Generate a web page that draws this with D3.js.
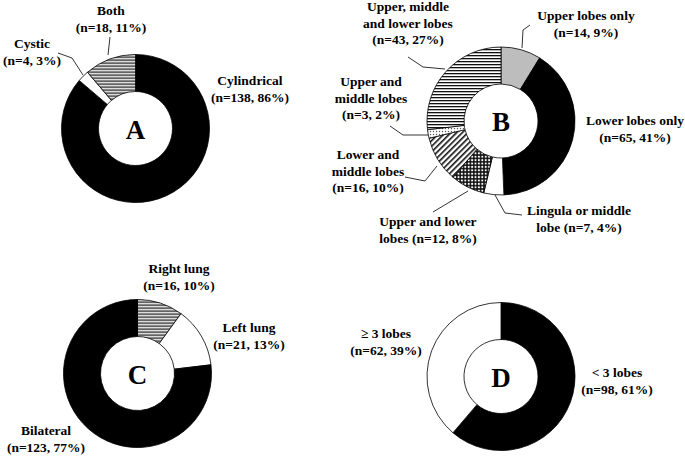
<!DOCTYPE html>
<html><head><meta charset="utf-8">
<script src="https://cdn.jsdelivr.net/npm/d3@7"></script>
<style>body{margin:0;background:#fff}svg{display:block}</style>
</head><body>
<svg id="c" width="685" height="457"></svg>
<script>
// ---- data ----
const catsA = ["Cylindrical", "Cystic", "Both"];
const valsA = [138, 4, 18];
const catsB = ["Upper lobes only", "Lower lobes only", "Lingula or middle lobe", "Upper and lower lobes", "Lower and middle lobes", "Upper and middle lobes", "Upper, middle and lower lobes"];
const valsB = [14, 65, 7, 12, 16, 3, 43];
const catsC = ["Right lung", "Left lung", "Bilateral"];
const valsC = [16, 21, 123];
const catsD = ["< 3 lobes", "\u2265 3 lobes"];
const valsD = [98, 62];

// ---- layout / styles ----
const fillsA = ["#000", "#fff", "url(#hstripe)"];
const fillsB = ["#bdbdbd", "#000", "#fff", "url(#checker)", "url(#diag)", "url(#dots)", "url(#hstripe)"];
const fillsC = ["url(#hstripe)", "#fff", "#000"];
const fillsD = ["#000", "#fff"];

// label lines: [lines(with {n},{p}), x, firstBaseline]
const labA = [
  [["Cylindrical", "(n={n}, {p}%)"], 250, 85],
  [["Cystic", "(n={n}, {p}%)"], 32, 48],
  [["Both", "(n={n}, {p}%)"], 111, 15]
];
const labB = [
  [["Upper lobes only", "(n={n}, {p}%)"], 586, 20],
  [["Lower lobes only", "(n={n}, {p}%)"], 635, 125],
  [["Lingula or middle", "lobe (n={n}, {p}%)"], 579, 215],
  [["Upper and lower", "lobes (n={n}, {p}%)"], 428, 226],
  [["Lower and", "middle lobes", "(n={n}, {p}%)"], 368, 159],
  [["Upper and", "middle lobes", "(n={n}, {p}%)"], 371, 86],
  [["Upper, middle", "and lower lobes", "(n={n}, {p}%)"], 408, 11]
];
const labC = [
  [["Right lung", "(n={n}, {p}%)"], 179, 273],
  [["Left lung", "(n={n}, {p}%)"], 249, 332],
  [["Bilateral", "(n={n}, {p}%)"], 46, 435]
];
const labD = [
  [["< 3 lobes", "(n={n}, {p}%)"], 617, 377],
  [["\u2265 3 lobes", "(n={n}, {p}%)"], 386, 338]
];
const leadA = [null, [[58,53],[72,58],[83,75]], [[110,37],[108,55]]];
const leadB = [
  [[530,25],[523,30],[522,48]],
  null,
  [[495,195],[505,213],[522,215]],
  [[433,212],[468,191]],
  [[405,177],[425,181],[437,166]],
  [[390,126],[403,135],[428,135]],
  [[408,57],[423,67],[445,69]]
];

const svg = d3.select("#c");
const defs = svg.append("defs");
// horizontal stripes
let p = defs.append("pattern").attr("id","hstripe").attr("patternUnits","userSpaceOnUse").attr("width",6).attr("height",3);
p.append("rect").attr("width",6).attr("height",3).attr("fill","#fff");
p.append("rect").attr("y",0).attr("width",6).attr("height",1.3).attr("fill","#111");
// diagonal
p = defs.append("pattern").attr("id","diag").attr("patternUnits","userSpaceOnUse").attr("width",4).attr("height",4).attr("patternTransform","rotate(45)");
p.append("rect").attr("width",4).attr("height",4).attr("fill","#fff");
p.append("rect").attr("width",1.6).attr("height",4).attr("fill","#111");
// checker
p = defs.append("pattern").attr("id","checker").attr("patternUnits","userSpaceOnUse").attr("width",3.4).attr("height",3.4);
p.append("rect").attr("width",3.4).attr("height",3.4).attr("fill","#111");
p.append("circle").attr("cx",1.7).attr("cy",1.7).attr("r",1.05).attr("fill","#fff");
// dots
p = defs.append("pattern").attr("id","dots").attr("patternUnits","userSpaceOnUse").attr("width",3).attr("height",3);
p.append("rect").attr("width",3).attr("height",3).attr("fill","#fff");
p.append("circle").attr("cx",1.5).attr("cy",1.5).attr("r",0.7).attr("fill","#555");

const font = "'Liberation Serif','Times New Roman',serif";
const rOut = 74, rIn = 37;
const arc = d3.arc().innerRadius(rIn).outerRadius(rOut);
const pie = d3.pie().sort(null).value(d => d);

function donut(cx, cy, letter, cats, vals, fills, labs, leads) {
  const total = d3.sum(vals);
  const g = svg.append("g").attr("transform", `translate(${cx},${cy})`);
  g.selectAll("path").data(pie(vals)).join("path")
    .attr("d", arc).attr("fill", (d,i) => fills[i])
    .attr("stroke", "#000").attr("stroke-width", 0.8);
  g.append("text").attr("x", 0).attr("y", 10).attr("text-anchor","middle")
    .attr("font-family", font).attr("font-weight","bold").attr("font-size", 27).text(letter);
  cats.forEach((c, i) => {
    const pct = Math.round(vals[i] / total * 100);
    const [lines, x, y] = labs[i];
    const t = svg.append("text").attr("font-family", font).attr("font-weight","bold")
      .attr("font-size", 13.5).attr("text-anchor","middle").attr("fill","#000");
    lines.forEach((l, k) => {
      t.append("tspan").attr("x", x).attr("y", y + k*16.5)
        .text(l.replace("{n}", vals[i]).replace("{p}", pct));
    });
    if (leads && leads[i]) {
      svg.append("path").attr("d", d3.line()(leads[i])).attr("fill","none")
        .attr("stroke","#000").attr("stroke-width",0.8);
    }
  });
}

donut(135.5, 128.5, "A", catsA, valsA, fillsA, labA, leadA);
donut(501, 121, "B", catsB, valsB, fillsB, labB, leadB);
donut(137.5, 373.5, "C", catsC, valsC, fillsC, labC, null);
donut(501, 376.5, "D", catsD, valsD, fillsD, labD, null);
</script>
</body></html>
